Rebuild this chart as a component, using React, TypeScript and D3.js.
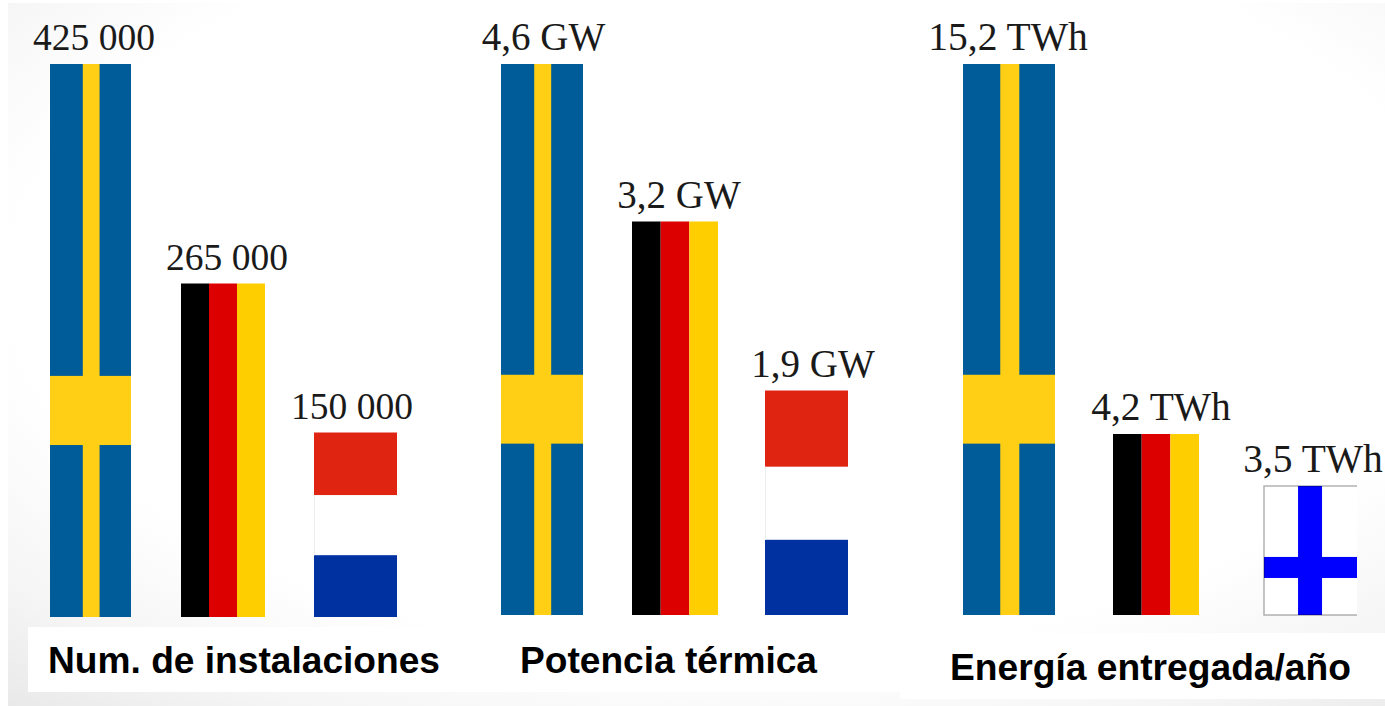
import React from "react";
import * as d3 from "d3";

// Country shown by each column, per panel
const installCountries = ["SE", "DE", "NL"];
const powerCountries = ["SE", "DE", "NL"];
const energyCountries = ["SE", "DE", "FI"];

// Values and their printed labels
const installValues = [425000, 265000, 150000];
const powerValues = [4.6, 3.2, 1.9];
const energyValues = [15.2, 4.2, 3.5];
const installLabels = ["425 000", "265 000", "150 000"];
const powerLabels = ["4,6 GW", "3,2 GW", "1,9 GW"];
const energyLabels = ["15,2 TWh", "4,2 TWh", "3,5 TWh"];

const panelTitles = ["Num. de instalaciones", "Potencia térmica", "Energía entregada/año"];

const WIDTH = 1385;
const HEIGHT = 706;

const SE_BLUE = "#005c99";
const SE_YELLOW = "#fecf14";
const DE_RED = "#dd0000";
const DE_GOLD = "#ffce00";
const NL_RED = "#e02412";
const NL_BLUE = "#0031a0";
const FI_BLUE = "#0000ff";

// The columns are pictograms rather than a strict proportional axis, so each panel
// uses a piecewise linear scale whose knots sit at the drawn values.
const panels = [
  {
    countries: installCountries, values: installValues, labels: installLabels, title: panelTitles[0],
    baseline: 617, tops: [64, 283.5, 432.5], lefts: [50, 181, 314], widths: [81, 84, 83],
    labelX: [94, 227, 352], labelSize: 37.5, titleX: 48, titleY: 673, titleLen: 392,
    box: [28, 627, 480, 65],
  },
  {
    countries: powerCountries, values: powerValues, labels: powerLabels, title: panelTitles[1],
    baseline: 615, tops: [64, 221.5, 390.5], lefts: [501, 632, 765], widths: [82, 86, 83],
    labelX: [543.5, 679, 813], labelSize: 39, titleX: 520, titleY: 673, titleLen: 297,
    box: [500, 627, 400, 65],
  },
  {
    countries: energyCountries, values: energyValues, labels: energyLabels, title: panelTitles[2],
    baseline: 615, tops: [64, 434, 486], lefts: [963, 1113, 1264], widths: [92, 86, 93],
    labelX: [1008, 1161, 1313], labelSize: 39.5, titleX: 950, titleY: 680, titleLen: 401,
    box: [900, 633, 485, 66],
  },
];

type Band = { x0: number; x1: number; y0: number; y1: number; fill: string };

// Splits one column into the colour fields of its flag, using fractions of its box.
function flagBands(country: string, x: number, y: number, w: number, h: number): Band[] {
  const fx = d3.scaleLinear().domain([0, 1]).range([x, x + w]);
  const fy = d3.scaleLinear().domain([0, 1]).range([y, y + h]);
  const rect = (a: number, b: number, c: number, d: number, fill: string): Band => ({
    x0: fx(a), x1: fx(b), y0: fy(c), y1: fy(d), fill,
  });
  if (country === "SE") {
    return [
      rect(0, 1, 0, 1, SE_BLUE),
      rect(0.405, 0.612, 0, 1, SE_YELLOW),
      rect(0, 1, 0.564, 0.689, SE_YELLOW),
    ];
  }
  if (country === "DE") {
    return [
      rect(0, 1 / 3, 0, 1, "#000000"),
      rect(1 / 3, 2 / 3, 0, 1, DE_RED),
      rect(2 / 3, 1, 0, 1, DE_GOLD),
    ];
  }
  if (country === "NL") {
    return [
      rect(0, 1, 0, 0.34, NL_RED),
      rect(0, 1, 0.34, 0.665, "#ffffff"),
      rect(0, 1, 0.665, 1, NL_BLUE),
    ];
  }
  return [
    rect(0, 1, 0, 1, "#ffffff"),
    rect(0.366, 0.624, 0, 1, FI_BLUE),
    rect(0, 1, 0.55, 0.713, FI_BLUE),
  ];
}

export default function App() {
  return (
    <svg
      width={WIDTH}
      height={HEIGHT}
      viewBox={`0 0 ${WIDTH} ${HEIGHT}`}
      style={{ position: "absolute", left: 0, top: 0, display: "block" }}
    >
      <defs>
        <radialGradient id="slideBg" cx="0.53" cy="0.4" r="0.85">
          <stop offset="0.62" stopColor="#ffffff" />
          <stop offset="0.8" stopColor="#f5f5f5" />
          <stop offset="1" stopColor="#e4e4e4" />
        </radialGradient>
      </defs>
      <rect x={8} y={3} width={WIDTH - 8} height={HEIGHT - 3} fill="url(#slideBg)" />
      {panels.map((p) => {
        const order = d3.range(p.values.length).sort((a, b) => p.values[a] - p.values[b]);
        const yScale = d3
          .scaleLinear()
          .domain([0, ...order.map((i) => p.values[i])])
          .range([p.baseline, ...order.map((i) => p.tops[i])]);
        return (
          <g key={p.title}>
            <rect x={p.box[0]} y={p.box[1]} width={p.box[2]} height={p.box[3]} fill="#ffffff" />
            {p.values.map((v, i) => {
              const top = yScale(v);
              const h = yScale(0) - top;
              const x = p.lefts[i];
              const w = p.widths[i];
              const country = p.countries[i];
              return (
                <g key={i}>
                  {flagBands(country, x, top, w, h).map((b, j) => (
                    <rect key={j} x={b.x0} y={b.y0} width={b.x1 - b.x0} height={b.y1 - b.y0} fill={b.fill} />
                  ))}
                  {country === "NL" && (
                    <line x1={x + 0.5} x2={x + 0.5} y1={top + h * 0.34} y2={top + h * 0.665} stroke="#ececec" />
                  )}
                  {country === "FI" && (
                    <path
                      d={`M${x + w},${top}H${x}V${top + h}H${x + w}`}
                      fill="none"
                      stroke="#000000"
                      strokeOpacity={0.3}
                      strokeWidth={1.5}
                    />
                  )}
                  <text
                    x={p.labelX[i]}
                    y={top - 14}
                    textAnchor="middle"
                    fontFamily="'Liberation Serif', serif"
                    fontSize={p.labelSize}
                    fill="#1a1a1a"
                  >
                    {p.labels[i]}
                  </text>
                </g>
              );
            })}
            <text
              x={p.titleX}
              y={p.titleY}
              fontFamily="'Liberation Sans', sans-serif"
              fontWeight={700}
              fontSize={36}
              textLength={p.titleLen}
              lengthAdjust="spacingAndGlyphs"
              fill="#000000"
            >
              {p.title}
            </text>
          </g>
        );
      })}
    </svg>
  );
}
